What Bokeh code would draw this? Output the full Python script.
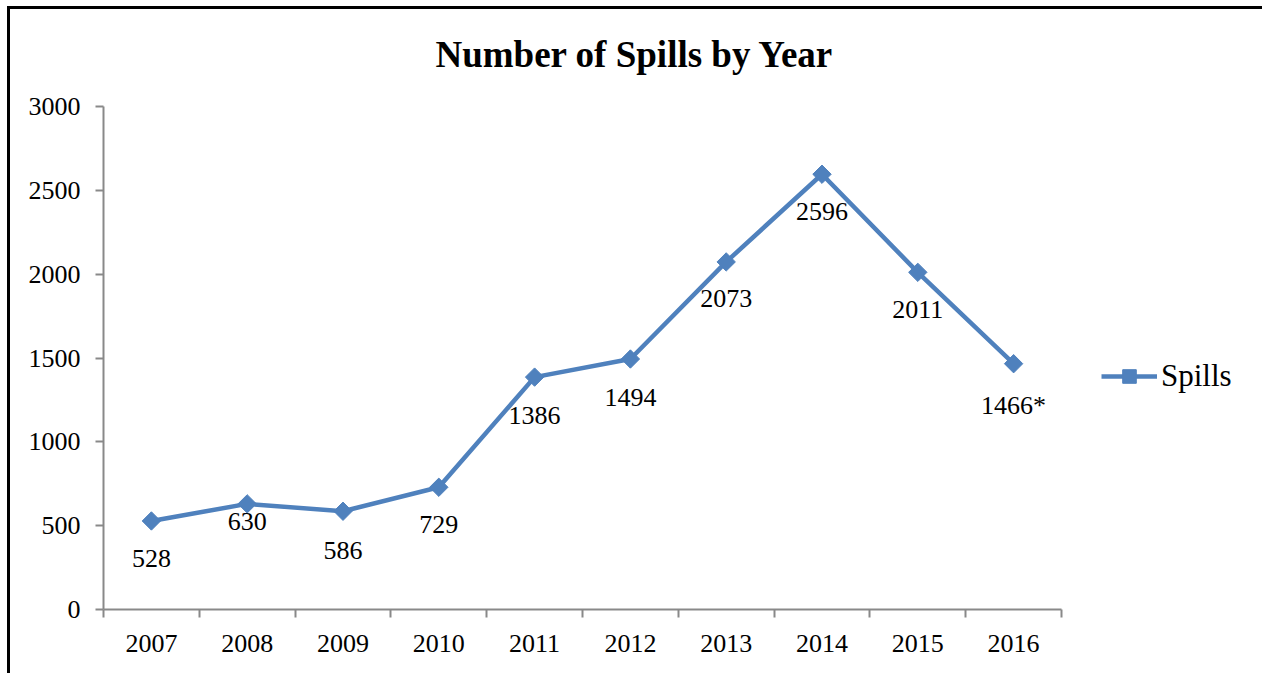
import numpy as np
from bokeh.plotting import figure
from bokeh.models import (ColumnDataSource, FactorRange, Range1d, LinearAxis, FixedTicker,
                          Legend, LegendItem)
from bokeh.core.properties import value
from bokeh.embed import file_html
from bokeh.resources import INLINE

years = ["2007", "2008", "2009", "2010", "2011", "2012", "2013", "2014", "2015", "2016"]
spills = [528, 630, 586, 729, 1386, 1494, 2073, 2596, 2011, 1466]
point_labels = ["528", "630", "586", "729", "1386", "1494", "2073", "2596", "2011", "1466*"]
label_offsets = [38, 18, 39, 37, 38, 38, 37, 37, 37, 42]
y_ticks = [0, 500, 1000, 1500, 2000, 2500, 3000]

FONT = "Liberation Serif"
BLUE = "#4F81BD"
GRID = "#898989"

src = ColumnDataSource(dict(x=years, y=spills, lab=point_labels, off=label_offsets))

p = figure(frame_width=958, frame_height=503,
           x_range=FactorRange(factors=years), y_range=Range1d(0, 3000),
           x_axis_type=None, y_axis_type=None, toolbar_location=None, output_backend="svg",
           min_border_left=103, min_border_right=201, min_border_top=106, min_border_bottom=64,
           outline_line_color=None, background_fill_color="white", border_fill_alpha=0,
           title="Number of Spills by Year")
# outer chart frame (left, top, right edges) drawn as inset shadows behind the transparent canvas
p.styles = {"box-shadow": "inset 7px 6px 0 0 white, inset -1px 0 0 0 white, "
                          "inset 10px 9px 0 0 black, inset -4px 0 0 0 black",
            "background-color": "white"}
p.title.align = "left"
p.title.offset = 332
p.title.text_font = FONT
p.title.text_font_size = "37px"
p.title.text_font_style = "bold"
p.title.text_color = "black"
p.title.standoff = 63

# y axis
yaxis = LinearAxis(ticker=FixedTicker(ticks=y_ticks, minor_ticks=[]))
yaxis.axis_line_color = GRID
yaxis.axis_line_width = 2
yaxis.major_tick_line_color = GRID
yaxis.major_tick_line_width = 2
yaxis.major_tick_out = 8
yaxis.major_tick_in = 0
yaxis.minor_tick_line_color = None
yaxis.major_label_text_font = FONT
yaxis.major_label_text_font_size = "26px"
yaxis.major_label_text_color = "black"
yaxis.major_label_standoff = 15
p.add_layout(yaxis, "left")

# x axis: labels at category centers, ticks at category boundaries
centers = [i + 0.5 for i in range(len(years))]
bounds = list(range(len(years) + 1))
xaxis = LinearAxis(ticker=FixedTicker(ticks=centers, minor_ticks=bounds))
xaxis.major_label_overrides = {c: y for c, y in zip(centers, years)}
xaxis.axis_line_color = GRID
xaxis.axis_line_width = 2
xaxis.major_tick_line_color = None
xaxis.major_tick_out = 0
xaxis.major_tick_in = 0
xaxis.minor_tick_line_color = GRID
xaxis.minor_tick_line_width = 2
xaxis.minor_tick_out = 8
xaxis.minor_tick_in = 0
xaxis.major_label_text_font = FONT
xaxis.major_label_text_font_size = "26px"
xaxis.major_label_text_color = "black"
xaxis.major_label_standoff = 17
p.add_layout(xaxis, "below")

p.ygrid.ticker = FixedTicker(ticks=y_ticks)
p.ygrid.grid_line_color = GRID
p.ygrid.grid_line_width = 2
for g in p.xgrid:
    g.visible = False

ln = p.line("x", "y", source=src, line_color=BLUE, line_width=4.5)
mk = p.scatter("x", "y", source=src, marker="square", angle=np.pi / 4, size=13,
               fill_color=BLUE, line_color=BLUE)

p.text("x", "y", text="lab", source=src, y_offset="off", text_align="center",
       text_baseline="middle", text_font=value(FONT), text_font_size="26px", text_color="black")

legend = Legend(items=[LegendItem(label="Spills", renderers=[ln, mk])], location=(40, 215),
                margin=0, padding=10, glyph_width=56, glyph_height=34, label_standoff=4,
                label_text_font=FONT, label_text_font_size="31px", label_text_color="black",
                border_line_color=None, background_fill_alpha=0)
p.add_layout(legend, "right")

open("out.html", "w").write(file_html(p, INLINE))
